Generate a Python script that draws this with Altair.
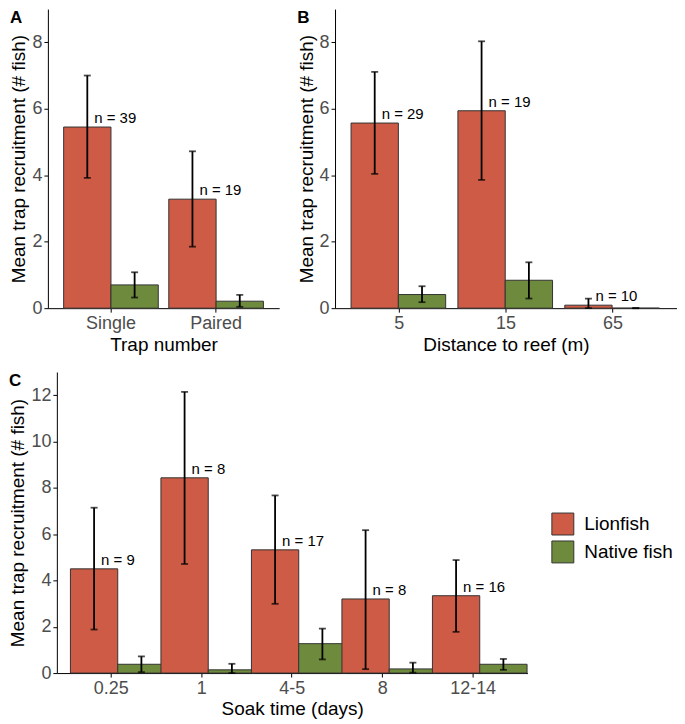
import altair as alt
import pandas as pd

SPECIES = ["Lionfish", "Native fish"]
COLORS = ["#CD5B45", "#6E8B3D"]

# Panel A: trap number
A_cats = ["Single", "Paired"]
A_lion = [5.45, 3.28]
A_lion_lo = [3.92, 1.85]
A_lion_hi = [7.00, 4.72]
A_nat = [0.70, 0.21]
A_nat_lo = [0.32, 0.04]
A_nat_hi = [1.08, 0.40]
A_n = [39, 19]

# Panel B: distance to reef
B_cats = ["5", "15", "65"]
B_lion = [5.57, 5.94, 0.09]
B_lion_lo = [4.04, 3.86, 0.00]
B_lion_hi = [7.11, 8.03, 0.29]
B_nat = [0.41, 0.84, 0.00]
B_nat_lo = [0.18, 0.29, 0.00]
B_nat_hi = [0.66, 1.38, 0.00]
B_n = [29, 19, 10]

# Panel C: soak time
C_cats = ["0.25", "1", "4-5", "8", "12-14"]
C_lion = [4.50, 8.43, 5.32, 3.20, 3.34]
C_lion_lo = [1.88, 4.71, 2.99, 0.17, 1.78]
C_lion_hi = [7.14, 12.14, 7.67, 6.17, 4.88]
C_nat = [0.38, 0.14, 1.27, 0.18, 0.38]
C_nat_lo = [0.04, 0.00, 0.59, 0.02, 0.14]
C_nat_hi = [0.72, 0.40, 1.92, 0.45, 0.61]
C_n = [9, 8, 17, 8, 16]

FONT = "Liberation Sans"
YTITLE = "Mean trap recruitment (# fish)"


def make_df(cats, lion, llo, lhi, nat, nlo, nhi, ns):
    rows = []
    for i, c in enumerate(cats):
        rows.append(dict(cat=c, species="Lionfish", mean=lion[i], lo=llo[i], hi=lhi[i],
                         label=f"n = {ns[i]}"))
        rows.append(dict(cat=c, species="Native fish", mean=nat[i], lo=nlo[i], hi=nhi[i],
                         label=""))
    return pd.DataFrame(rows)


def panel(df, cats, tag, ydom, yvals, xtitle, w, h, inset=0, legend=None):
    # inset: blank margin (px) left of the axis line inside the panel cell
    xscale = alt.Scale(paddingInner=0.1, paddingOuter=0.15)
    if inset:
        xscale = alt.Scale(paddingInner=0.1, paddingOuter=0.15, range=[inset, w])
    xenc = alt.X("cat:N", sort=cats, scale=xscale,
                 axis=alt.Axis(title=xtitle, labelAngle=0))
    xoff = alt.XOffset("species:N", sort=SPECIES,
                       scale=alt.Scale(paddingInner=0, paddingOuter=0))
    yscale = alt.Scale(domain=ydom, nice=False, zero=True)
    yaxis = alt.Axis(values=yvals, title=YTITLE)
    if inset:
        yaxis = alt.Axis(values=yvals, title=YTITLE, offset=-inset)
    base = alt.Chart(df).encode(x=xenc, xOffset=xoff)
    bars = base.mark_bar(stroke="#333333", strokeWidth=1).encode(
        y=alt.Y("mean:Q", scale=yscale, axis=yaxis),
        color=alt.Color("species:N", sort=SPECIES,
                        scale=alt.Scale(domain=SPECIES, range=COLORS),
                        legend=legend),
    )
    rules = base.mark_rule(color="black", strokeWidth=1.8).encode(
        y=alt.Y("lo:Q", scale=yscale), y2="hi:Q")
    cap_lo = base.mark_tick(color="black", size=7, thickness=1.8).encode(
        y=alt.Y("lo:Q", scale=yscale))
    cap_hi = base.mark_tick(color="black", size=7, thickness=1.8).encode(
        y=alt.Y("hi:Q", scale=yscale))
    text = base.transform_filter(alt.datum.species == "Lionfish").mark_text(
        align="left", baseline="alphabetic", dx=7, dy=-4, fontSize=15,
        font=FONT, color="black").encode(
        y=alt.Y("mean:Q", scale=yscale), text="label:N")
    tag_x = -39 if inset else -38
    tagmark = alt.Chart(pd.DataFrame({"tag": [tag]})).mark_text(
        align="left", baseline="top", fontSize=17, fontWeight="bold",
        font=FONT, color="black").encode(
        text="tag:N", x=alt.value(tag_x), y=alt.value(1))
    return alt.layer(bars, rules, cap_lo, cap_hi, text, tagmark).properties(
        width=w, height=h)


dfA = make_df(A_cats, A_lion, A_lion_lo, A_lion_hi, A_nat, A_nat_lo, A_nat_hi, A_n)
dfB = make_df(B_cats, B_lion, B_lion_lo, B_lion_hi, B_nat, B_nat_lo, B_nat_hi, B_n)
dfC = make_df(C_cats, C_lion, C_lion_lo, C_lion_hi, C_nat, C_nat_lo, C_nat_hi, C_n)

legend = alt.Legend(title=None, orient="none", legendX=505, legendY=141,
                    symbolType="square", symbolSize=484, symbolStrokeColor="#333333",
                    symbolStrokeWidth=1, symbolOpacity=1, labelFontSize=19,
                    labelFont=FONT, labelColor="black", rowPadding=1, labelOffset=10,
                    padding=0)

pA = panel(dfA, A_cats, "A", [0, 9], [0, 2, 4, 6, 8], "Trap number", 232, 300)
pB = panel(dfB, B_cats, "B", [0, 9], [0, 2, 4, 6, 8], "Distance to reef (m)", 343, 300)
pC = panel(dfC, C_cats, "C", [0, 13], [0, 2, 4, 6, 8, 10, 12], "Soak time (days)",
           481, 302, inset=9, legend=legend)

top = alt.hconcat(pA, pB, spacing=17)
chart = alt.concat(top, pC, columns=1, spacing=18, align="none").resolve_legend(
    color="independent"
).properties(
    padding=0
).configure_axis(
    domainColor="black", domainWidth=1, tickColor="black", tickWidth=1, tickSize=4,
    labelColor="#4D4D4D", labelFont=FONT, labelFontSize=18, labelPadding=2,
    titleFont=FONT, titleFontSize=19, titleFontWeight="normal", titleColor="black",
    titlePadding=3, grid=False
).configure_view(stroke=None)

chart.save("out.html", embed_options={"renderer": "svg", "actions": False})
